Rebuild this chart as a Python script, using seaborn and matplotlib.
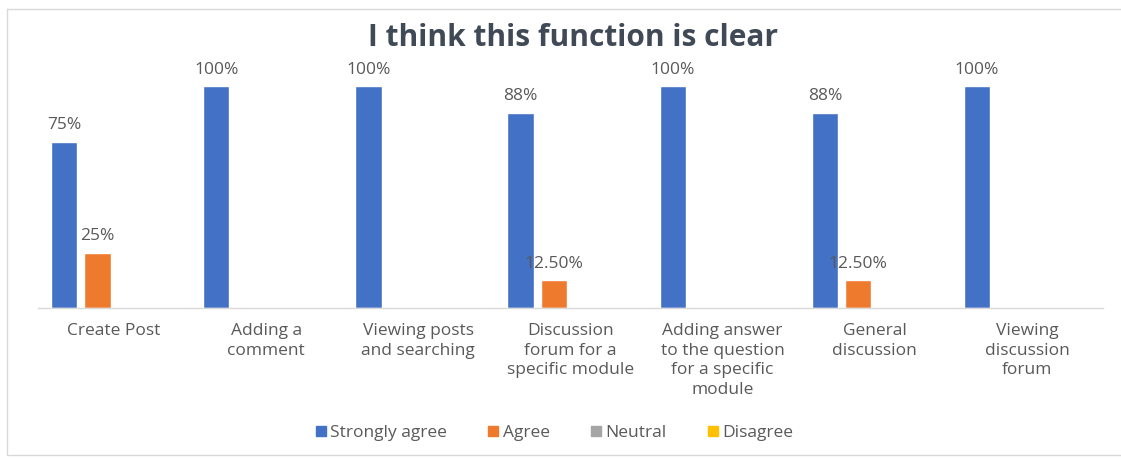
import matplotlib
matplotlib.use("Agg")
import matplotlib.pyplot as plt
import seaborn as sns
import pandas as pd
from matplotlib.lines import Line2D

categories = [
    "Create Post",
    "Adding a\ncomment",
    "Viewing posts\nand searching",
    "Discussion\nforum for a\nspecific module",
    "Adding answer\nto the question\nfor a specific\nmodule",
    "General\ndiscussion",
    "Viewing\ndiscussion\nforum",
]
series = ["Strongly agree", "Agree", "Neutral", "Disagree"]
strongly_agree = [75, 100, 100, 88, 100, 88, 100]
agree = [25, 0, 0, 12.5, 0, 12.5, 0]
neutral = [0, 0, 0, 0, 0, 0, 0]
disagree = [0, 0, 0, 0, 0, 0, 0]
strongly_agree_labels = ["75%", "100%", "100%", "88%", "100%", "88%", "100%"]
agree_labels = ["25%", "", "", "12.50%", "", "12.50%", ""]

colors = ["#4271C6", "#EE7A2E", "#A5A5A5", "#FFC000"]
text_gray = "#595959"

rows = []
for name, vals in zip(series, [strongly_agree, agree, neutral, disagree]):
    for cat, v in zip(categories, vals):
        rows.append({"category": cat, "response": name, "value": v})
df = pd.DataFrame(rows)

sns.set_theme(style="white")
plt.rcParams["font.family"] = ["Open Sans", "DejaVu Sans"]

fig = plt.figure(figsize=(11.21, 4.58), dpi=100)
ax = fig.add_axes([38 / 1121, 1 - 308 / 458, (1103 - 38) / 1121, 266.4 / 458])

sns.barplot(
    data=df, x="category", y="value", hue="response",
    order=categories, hue_order=series, palette=colors,
    width=0.875, gap=0.21, ax=ax, legend=False,
    saturation=1, errorbar=None,
)

ax.set_ylim(0, 120)
ax.set_xlim(-0.5, len(categories) - 0.5)
ax.set_xlabel("")
ax.set_ylabel("")
ax.set_yticks([])
for side in ["left", "right", "top"]:
    ax.spines[side].set_visible(False)
ax.spines["bottom"].set_color("#D9D9D9")
ax.spines["bottom"].set_linewidth(1.0)
ax.tick_params(axis="x", length=0, pad=11, labelsize=12.5, colors=text_gray)
for lbl in ax.get_xticklabels():
    lbl.set_linespacing(1.3)
    lbl.set_verticalalignment("top")

ax.bar_label(ax.containers[0], labels=strongly_agree_labels, padding=6,
             fontsize=12.5, color=text_gray)
ax.bar_label(ax.containers[1], labels=agree_labels, padding=6,
             fontsize=12.5, color=text_gray)

fig.text(573 / 1121, 1 - 38 / 458, "I think this function is clear",
         ha="center", va="center", fontsize=21.5, fontweight="bold",
         color="#404A56")

handles = [Line2D([0], [0], marker="s", linestyle="", markersize=7.5,
                  markerfacecolor=c, markeredgecolor=c) for c in colors]
fig.legend(handles, series, loc="center", bbox_to_anchor=(553 / 1121, 1 - 433 / 458),
           ncol=4, frameon=False, fontsize=12.5, labelcolor=text_gray,
           handletextpad=0.1, columnspacing=2.2, handlelength=0.9)

# thin outer frame
frame_color = "#D9D9D9"
fig.add_artist(Line2D([7 / 1121, 1], [1 - 9 / 458, 1 - 9 / 458], color=frame_color, lw=1))
fig.add_artist(Line2D([7 / 1121, 7 / 1121], [1 - 9 / 458, 1 - 455 / 458], color=frame_color, lw=1))
fig.add_artist(Line2D([7 / 1121, 1], [1 - 455 / 458, 1 - 455 / 458], color=frame_color, lw=1))

fig.savefig("out.png", dpi=100)
